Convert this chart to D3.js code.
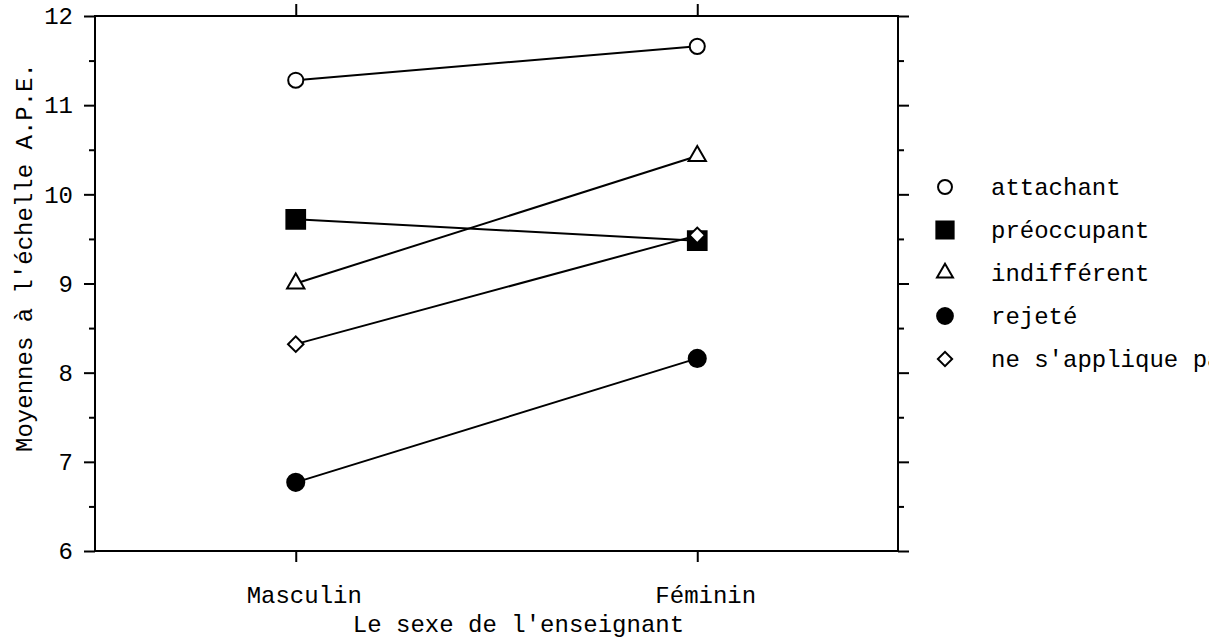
<!DOCTYPE html>
<html>
<head>
<meta charset="utf-8">
<script src="https://cdn.jsdelivr.net/npm/d3@7"></script>
<style>
  body { margin: 0; background: #fff; }
  svg { display: block; }
  text { font-family: "Liberation Mono", "Courier New", monospace; fill: #000; }
</style>
</head>
<body>
<svg id="chart"></svg>
<script>
const sexes = ["Masculin", "Féminin"];
const groups = ["attachant", "préoccupant", "indifférent", "rejeté", "ne s'applique pas"];
const attachant = [11.28, 11.66];
const preoccupant = [9.72, 9.48];
const indifferent = [9.0, 10.43];
const rejete = [6.77, 8.16];
const neSapplique = [8.32, 9.54];
const yTicks = [6, 7, 8, 9, 10, 11, 12];
const yMinorTicks = [6.5, 7.5, 8.5, 9.5, 10.5, 11.5];

const seriesValues = [attachant, preoccupant, indifferent, rejete, neSapplique];

const svgWidth = 1209, svgHeight = 640;
const margin = { top: 16, right: 311, bottom: 89, left: 95 };
const contentWidth = svgWidth - margin.left - margin.right,
  contentHeight = svgHeight - margin.top - margin.bottom;
const fontSize = "24px";

const svg = d3.select("#chart")
  .attr("width", svgWidth)
  .attr("height", svgHeight);

const xScale = d3.scalePoint()
  .domain(sexes)
  .range([margin.left, margin.left + contentWidth])
  .padding(0.5);

const yScale = d3.scaleLinear()
  .domain([6, 12])
  .range([margin.top + contentHeight, margin.top]);

// marker shapes: open circle, filled square, open triangle, filled circle, open diamond
const markerStyle = [
  { type: d3.symbolCircle, size: 180, fill: "#fff", rotate: 0 },
  { type: d3.symbolSquare, size: 350, fill: "#000", rotate: 0 },
  { type: d3.symbolTriangle, size: 130, fill: "#fff", rotate: 0 },
  { type: d3.symbolCircle, size: 230, fill: "#000", rotate: 0 },
  { type: d3.symbolSquare, size: 120, fill: "#fff", rotate: 45 }
];

const series = groups.map((g, i) => ({
  name: g,
  style: markerStyle[i],
  points: sexes.map((s, j) => ({ sex: s, value: seriesValues[i][j] }))
}));

// frame
svg.append("rect")
  .attr("x", margin.left)
  .attr("y", margin.top)
  .attr("width", contentWidth)
  .attr("height", contentHeight)
  .attr("fill", "none")
  .attr("stroke", "#000")
  .attr("stroke-width", 2);

function styleAxis(g) {
  g.select(".domain").remove();
  g.selectAll(".tick line").attr("stroke", "#000").attr("stroke-width", 2);
  g.selectAll("text").attr("font-family", null).attr("font-size", null);
}

// left axis
svg.append("g")
  .attr("transform", `translate(${margin.left}, 0)`)
  .call(d3.axisLeft(yScale).tickValues(yTicks).tickSize(11).tickPadding(11).tickFormat(d3.format("d")))
  .call(styleAxis)
  .selectAll("text").style("font-size", fontSize);

svg.append("g")
  .attr("transform", `translate(${margin.left}, 0)`)
  .call(d3.axisLeft(yScale).tickValues(yMinorTicks).tickSize(6).tickFormat(""))
  .call(styleAxis);

// right axis
svg.append("g")
  .attr("transform", `translate(${margin.left + contentWidth}, 0)`)
  .call(d3.axisRight(yScale).tickValues(yTicks).tickSize(11).tickFormat(""))
  .call(styleAxis);

svg.append("g")
  .attr("transform", `translate(${margin.left + contentWidth}, 0)`)
  .call(d3.axisRight(yScale).tickValues(yMinorTicks).tickSize(6).tickFormat(""))
  .call(styleAxis);

// top axis
svg.append("g")
  .attr("transform", `translate(0, ${margin.top})`)
  .call(d3.axisTop(xScale).tickSize(12).tickFormat(""))
  .call(styleAxis);

// bottom axis
svg.append("g")
  .attr("transform", `translate(0, ${margin.top + contentHeight})`)
  .call(d3.axisBottom(xScale).tickSize(11).tickPadding(24))
  .call(styleAxis)
  .selectAll("text").style("font-size", fontSize).attr("dx", "8");

// axis titles
svg.append("text")
  .attr("x", margin.left + contentWidth / 2 + 22)
  .attr("y", 632)
  .attr("text-anchor", "middle")
  .style("font-size", fontSize)
  .text("Le sexe de l'enseignant");

svg.append("text")
  .attr("transform", `translate(32, ${margin.top + contentHeight / 2 - 26}) rotate(-90)`)
  .attr("text-anchor", "middle")
  .style("font-size", fontSize)
  .text("Moyennes à l'échelle A.P.E.");

const line = d3.line()
  .x(d => xScale(d.sex))
  .y(d => yScale(d.value));

svg.append("g")
  .selectAll("path")
  .data(series)
  .enter()
  .append("path")
  .attr("d", d => line(d.points))
  .attr("fill", "none")
  .attr("stroke", "#000")
  .attr("stroke-width", 2);

const symbolGen = d3.symbol();

series.forEach(s => {
  svg.append("g")
    .selectAll("path")
    .data(s.points)
    .enter()
    .append("path")
    .attr("d", symbolGen.type(s.style.type).size(s.style.size)())
    .attr("transform", d => `translate(${xScale(d.sex)}, ${yScale(d.value)}) rotate(${s.style.rotate})`)
    .attr("fill", s.style.fill)
    .attr("stroke", "#000")
    .attr("stroke-width", 2);
});

// legend (runs off the right edge, as in the original)
const legend = svg.append("g")
  .attr("transform", "translate(945, 187)");

const legendItem = legend.selectAll("g")
  .data(series)
  .enter()
  .append("g")
  .attr("transform", (d, i) => `translate(0, ${i * 43})`);

legendItem.append("path")
  .attr("d", d => symbolGen.type(d.style.type).size(d.style.size * 0.85)())
  .attr("transform", d => `rotate(${d.style.rotate})`)
  .attr("fill", d => d.style.fill)
  .attr("stroke", "#000")
  .attr("stroke-width", 2);

legendItem.append("text")
  .attr("x", 46)
  .attr("y", 8)
  .style("font-size", fontSize)
  .text(d => d.name);
</script>
</body>
</html>
